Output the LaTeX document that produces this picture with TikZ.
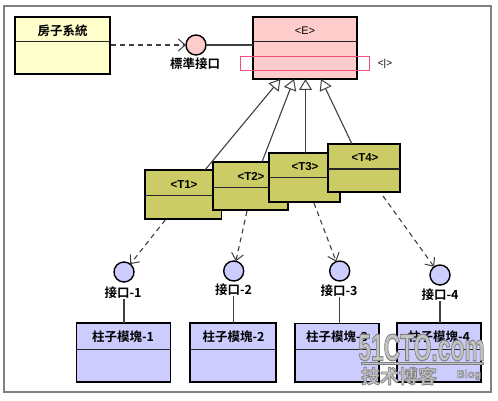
\documentclass[tikz,border=0pt]{standalone}
\usepackage{fontspec}
\usepackage{graphicx}
\setmainfont{Liberation Sans}
\newfontfamily\cjk{Noto Sans CJK TC}[BoldFont={Noto Sans CJK TC Bold}]
\usetikzlibrary{arrows.meta,calc}
\definecolor{framegray}{HTML}{808080}
\definecolor{housefill}{HTML}{FFFFCC}
\definecolor{pinkfill}{HTML}{FFCCCC}
\definecolor{olivefill}{HTML}{CCCC66}
\definecolor{bluefill}{HTML}{CCCCFF}
\definecolor{pinkline}{HTML}{F05080}
\definecolor{linegray}{HTML}{404040}
\definecolor{markgray}{HTML}{C4C4C4}
\newcommand{\umlbox}[7]{%
 \node[boxshape,fill=#2,minimum width=#5pt-#3pt,minimum height=#6pt-#4pt] (#1) at ({(#3+#5)/2},{(#4+#6)/2}) {};
 \draw[divider] (#1.west |- 0,#7) -- (#1.east |- 0,#7);
}
\newcommand{\outlined}[2]{\special{pdf:code 0.5 0.5 0.5 RG 2 Tr #1 w}#2\special{pdf:code 0 Tr 1 w}}
\tikzset{
 x=1pt,y=-1pt,
 boxshape/.style={draw=black,line width=1.8pt,rectangle,inner sep=0pt,outer sep=0pt},
 divider/.style={draw=black!85,line width=1pt},
 lollipop/.style={circle,draw=black,line width=1.4pt,minimum size=20pt,inner sep=0pt,outer sep=0pt},
 caption/.style={inner sep=0pt,font=\fontsize{12.5}{14}\selectfont\cjk\bfseries},
 tlabel/.style={inner sep=0pt,font=\fontsize{11.5}{13}\selectfont\bfseries},
 elabel/.style={inner sep=0pt,font=\fontsize{11}{13}\selectfont},
 realize/.style={draw=linegray,line width=1.1pt,-{Triangle[open,fill=white,length=11pt,width=13pt,line width=1pt]}},
 depend/.style={draw=linegray,line width=1.1pt,dash pattern=on 5pt off 4pt,-{Straight Barb[length=7pt,width=12pt,line width=1pt]}},
 stem/.style={draw=linegray,line width=1.1pt},
 wmark/.style={inner sep=0pt,text=markgray},
}
\begin{document}
\begin{tikzpicture}
\useasboundingbox (0,0) rectangle (498,401);
\fill[white] (0,0) rectangle (498,401);
\node[draw=framegray,line width=1.2pt,rectangle,minimum width=487pt,minimum height=386pt,inner sep=0pt] (frame) at (247.5,199) {};

% top row
\umlbox{house}{housefill}{15}{17}{110}{74}{42}
\node[caption] (houselab) at (62.5,31) {房子系統};
\umlbox{e}{pinkfill}{253}{17}{357}{79}{42}
\node[elabel] (elab) at (305,31) {<E>};
\node[lollipop,fill=pinkfill] (std) at (196,45) {};
\node[caption] (stdlab) at (195,64) {標準接口};
\draw[stem] (std) -- (e.west |- std);
\draw[depend] ([xshift=1pt]house.east |- std) -- (std.west);
\node[draw=pinkline,line width=1pt,rectangle,minimum width=129.5pt,minimum height=14pt,inner sep=0pt] (iface) at (304.75,64) {};
\node[inner sep=0pt,font=\fontsize{10}{12}\selectfont] (ifacelab) at (385,64) {<|>};

% olive boxes
\umlbox{t1}{olivefill}{145}{170}{221.5}{219}{195.7}
\node[tlabel] (t1lab) at (184,185) {<T1>};
\umlbox{t2}{olivefill}{213}{162}{288}{210}{187}
\node[tlabel] (t2lab) at (251,176) {<T2>};
\umlbox{t3}{olivefill}{269}{153}{340}{202}{177.5}
\node[tlabel] (t3lab) at (305,167) {<T3>};
\umlbox{t4}{olivefill}{328}{144}{400}{192}{169}
\node[tlabel] (t4lab) at (365,158) {<T4>};
\draw[realize] ([xshift=21.75pt]t1.north) -- ([xshift=-24.5pt]e.south);
\draw[realize] ([xshift=11.5pt]t2.north) -- ([xshift=-11pt]e.south);
\draw[realize] ([xshift=1pt]t3.north) -- ([xshift=.5pt]e.south);
\draw[realize] ([xshift=-12pt]t4.north) -- ([xshift=16pt]e.south);

% interfaces
\node[lollipop,fill=bluefill] (c1) at (124,272) {};
\node[lollipop,fill=bluefill] (c2) at (233.7,271) {};
\node[lollipop,fill=bluefill] (c3) at (339.7,271) {};
\node[lollipop,fill=bluefill] (c4) at (440,275) {};
\node[caption] (c1lab) at (123,293) {接口-1};
\node[caption] (c2lab) at (233.5,290) {接口-2};
\node[caption] (c3lab) at (339,291) {接口-3};
\node[caption] (c4lab) at (440,295) {接口-4};

\draw[depend] ([xshift=-18pt,yshift=-1pt]t1.south) -- (c1);
\draw[depend] ([xshift=-3.5pt,yshift=-1pt]t2.south) -- (c2);
\draw[depend] ([xshift=9.5pt,yshift=-1pt]t3.south) -- (c3);
\draw[depend] ([xshift=19pt,yshift=-4pt]t4.south) -- (c4);

% modules
\umlbox{b1}{bluefill}{76.5}{323}{170.5}{382}{349}
\umlbox{b2}{bluefill}{190}{323}{276}{382}{349}
\umlbox{b3}{bluefill}{295}{323.5}{379}{382}{349}
\umlbox{b4}{bluefill}{397}{323}{481}{382}{349}
\node[caption] (b1lab) at (123,337) {柱子模塊-1};
\node[caption] (b2lab) at (233.5,337) {柱子模塊-2};
\node[caption] (b3lab) at (337,337) {柱子模塊-3};
\node[caption] (b4lab) at (439,337) {柱子模塊-4};
\draw[stem] (c1lab.south -| c1) -- (b1.north -| c1);
\draw[stem] (c2lab.south -| c2) -- (b2.north -| c2);
\draw[stem] (c3lab.south -| c3) -- (b3.north -| c3);
\draw[stem] (c4lab.south -| c4) -- (b4.north -| c4);

% watermark
\node[wmark,font=\fontsize{38}{40}\selectfont\bfseries] (wm1) at (421.5,347.5) {\scalebox{0.6}[1]{\outlined{1}{51CTO.com}}};
\fill[markgray,draw=black!50,line width=.6pt] (361,362) rectangle (483,364.5);
\node[wmark,font=\fontsize{19}{21}\selectfont\cjk\bfseries] (wm2) at (399,376) {\outlined{0.7}{技术博客}};
\node[wmark,font=\fontsize{11}{13}\selectfont\bfseries] (wm3) at (469,375) {\outlined{0.4}{Blog}};
\end{tikzpicture}
\end{document}
